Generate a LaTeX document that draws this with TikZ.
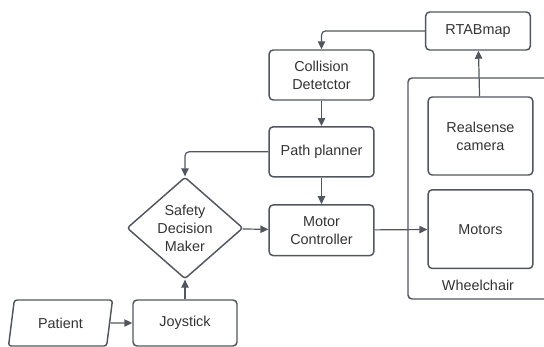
\documentclass[tikz,border=0pt]{standalone}
\usepackage{fontspec}
\setmainfont{Liberation Sans}
\usetikzlibrary{
  shapes.geometric,
  positioning,
  arrows.meta
}
\definecolor{edge}{RGB}{82,87,95}
\definecolor{ink}{RGB}{51,51,51}

\begin{document}
\begin{tikzpicture}[x=0.75pt,y=-0.75pt,
  box/.style={rectangle, draw=edge, line width=1.1pt, rounded corners=3pt, minimum width=78.5pt, align=center, text=ink, font=\fontsize{10.8}{13.5}\selectfont},
  decide/.style={diamond, draw=edge, line width=1.1pt, rounded corners=2pt, inner sep=0pt, minimum width=87pt, minimum height=60pt, align=center, text=ink, font=\fontsize{10.8}{13.5}\selectfont},
  input/.style={trapezium, trapezium left angle=75, trapezium right angle=105, trapezium stretches=true, draw=edge, line width=1.1pt, rounded corners=2pt, inner sep=0pt, minimum width=78pt, minimum height=34.5pt, text=ink, font=\fontsize{10.8}{13.5}\selectfont},
  link/.style={draw=edge, line width=0.9pt, rounded corners=3pt},
  >={Triangle[length=6pt,width=5.5pt]}, node distance=19pt]
\useasboundingbox (0,0) rectangle (544,347);

% perception and planning column
\node[box, minimum height=28.5pt] (rtab) at (478,31) {RTABmap};
\node[box, minimum height=37.5pt] (col) at (321.5,75) {Collision\\Detetctor};
\node[box, minimum height=37.5pt, below=of col] (plan) {Path planner};
\node[box, minimum height=38pt, below=20pt of plan] (mctl) {Motor\\Controller};

% wheelchair
\node[box, minimum height=58.5pt] (cam) at (480.5,136) {Realsense\\camera};
\node[box, minimum height=59pt, below=10pt of cam] (mot) {Motors};
\node[text=ink, font=\fontsize{10.8}{13.5}\selectfont] (wlab) at (478,285) {Wheelchair};
\coordinate (wtop) at (552,78);
\coordinate (wbot) at (552,299);
\draw[edge, line width=1.1pt, rounded corners=3pt] (wtop) -| (408,299) -- (wbot);

% user side
\node[decide] (sdm) at (185,228) {Safety\\Decision\\Maker};
\node[box, minimum width=78pt, minimum height=34.5pt] (joy) at (185,323) {Joystick};
\node[input] (pat) at (60.5,323) {Patient};

\draw[link,->] (rtab) -| (col);
\draw[link,->] (col) -- (plan);
\draw[link,->] (plan) -| (sdm);
\draw[link,->] (plan) -- (mctl);
\draw[link,->] (sdm) -- (mctl);
\draw[link,->] (mctl) -- (mot);
\draw[link,->] (cam) -- (rtab);
\draw[link,->] (pat) -- (joy);
\draw[link,->] (joy) -- (sdm);
\end{tikzpicture}
\end{document}
